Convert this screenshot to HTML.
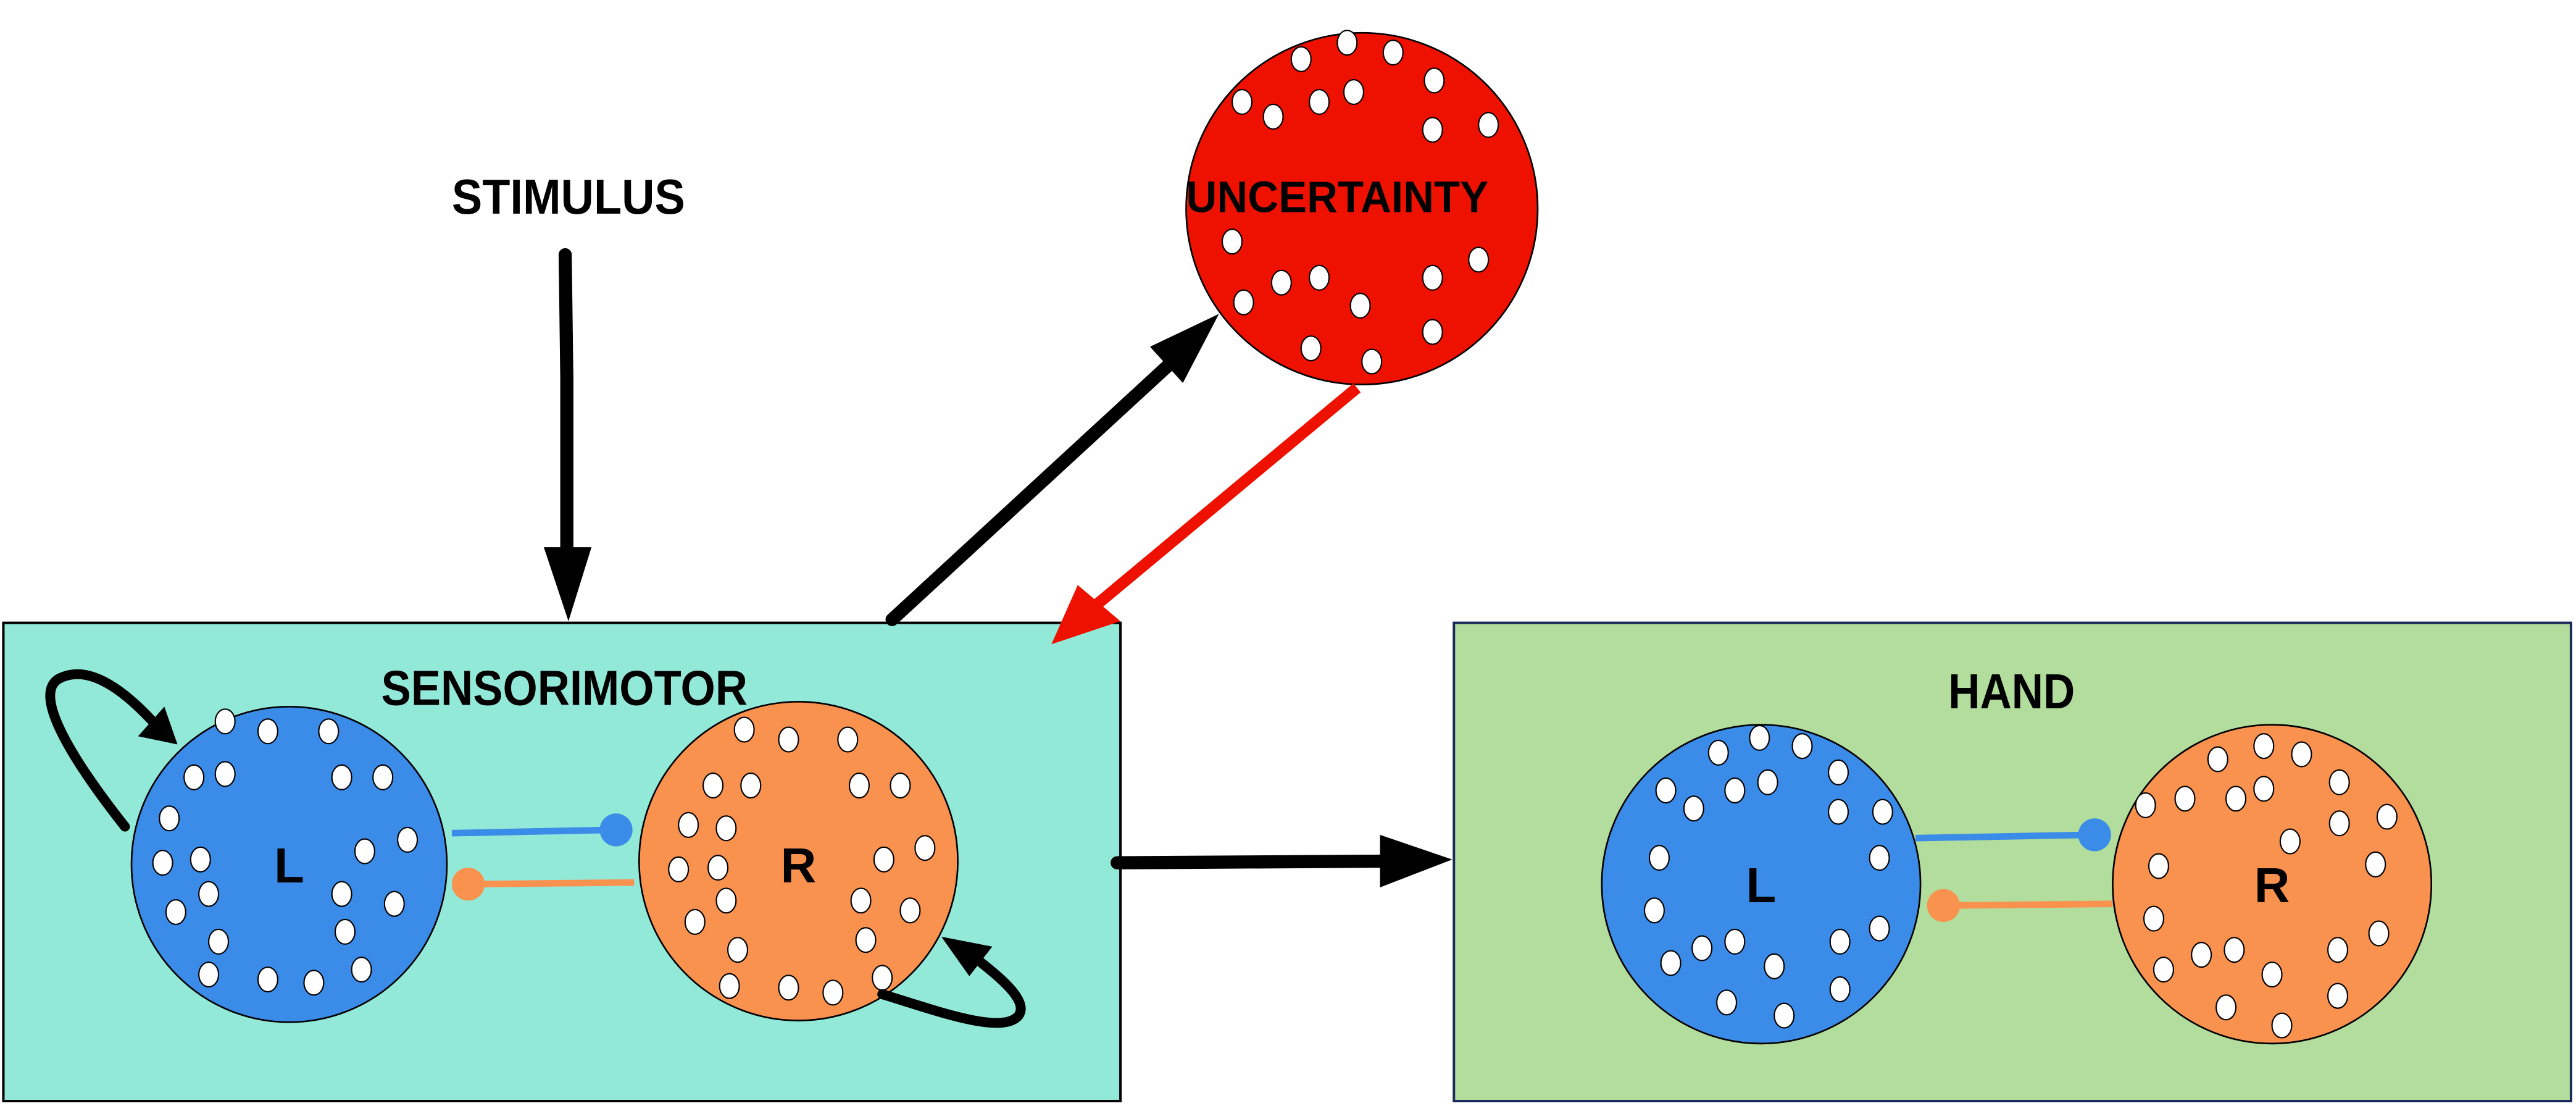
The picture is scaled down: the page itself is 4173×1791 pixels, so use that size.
<!DOCTYPE html>
<html><head><meta charset="utf-8">
<style>
html,body{margin:0;padding:0;background:#fff;}
svg{display:block;}
text{font-family:"Liberation Sans Narrow","Liberation Sans",sans-serif;font-weight:bold;}
</style></head>
<body>
<svg width="4173" height="1791" viewBox="0 0 1568 673" xmlns="http://www.w3.org/2000/svg">
<rect width="1568" height="673" fill="#fff"/>
<rect x="2" y="379" width="680" height="291" fill="#93e9d8" stroke="#000" stroke-width="1.5"/>
<rect x="885" y="379" width="680" height="291" fill="#b3dd9c" stroke="#1a2a5a" stroke-width="1.5"/>
<text x="232" y="429" font-size="30" textLength="223" lengthAdjust="spacingAndGlyphs">SENSORIMOTOR</text>
<text x="1186" y="431" font-size="30" textLength="77" lengthAdjust="spacingAndGlyphs">HAND</text>
<text x="275" y="130" font-size="30" textLength="142" lengthAdjust="spacingAndGlyphs">STIMULUS</text>
<circle cx="829" cy="127" r="107" fill="#ee1100" stroke="#000" stroke-width="1"/>
<text x="722" y="129" font-size="27" textLength="184" lengthAdjust="spacingAndGlyphs">UNCERTAINTY</text>
<circle cx="176" cy="526" r="96" fill="#3b8be8" stroke="#000" stroke-width="1"/>
<circle cx="486" cy="524" r="97" fill="#f9914f" stroke="#000" stroke-width="1"/>
<circle cx="1072" cy="538" r="97" fill="#3b8be8" stroke="#000" stroke-width="1"/>
<circle cx="1383" cy="538" r="97" fill="#f9914f" stroke="#000" stroke-width="1"/>
<g id="dots"></g>
<text x="176" y="537" font-size="30" text-anchor="middle">L</text>
<text x="486" y="537" font-size="30" text-anchor="middle">R</text>
<text x="1072" y="549" font-size="30" text-anchor="middle">L</text>
<text x="1383" y="549" font-size="30" text-anchor="middle">R</text>
<g><line x1="275" y1="507" x2="372" y2="505" stroke="#3b8be8" stroke-width="4"/><circle cx="375" cy="505" r="10" fill="#3b8be8"/></g>
<g><line x1="386" y1="537" x2="288" y2="538" stroke="#f9914f" stroke-width="4"/><circle cx="285" cy="538" r="10" fill="#f9914f"/></g>
<g><line x1="1166" y1="510" x2="1272" y2="508" stroke="#3b8be8" stroke-width="4"/><circle cx="1275" cy="508" r="10" fill="#3b8be8"/></g>
<g><line x1="1286" y1="550" x2="1186" y2="551" stroke="#f9914f" stroke-width="4"/><circle cx="1183" cy="551" r="10" fill="#f9914f"/></g>
<g><polyline points="344,155 345,230 345,340" fill="none" stroke="#000" stroke-width="8" stroke-linecap="round"/><polygon points="331,333 360,333 346,378" fill="#000"/></g>
<g><line x1="543" y1="377" x2="718" y2="216" stroke="#000" stroke-width="8" stroke-linecap="round"/><polygon points="742,191 700,211 720,233" fill="#000"/></g>
<g><line x1="826" y1="236" x2="665" y2="370" stroke="#ee1100" stroke-width="7"/><polygon points="640,392 656,356 682,378" fill="#ee1100"/></g>
<g><line x1="680" y1="525" x2="845" y2="524" stroke="#000" stroke-width="8" stroke-linecap="round"/><polygon points="884,523 840,508 840,540" fill="#000"/></g>
<g><path d="M76,503 C50,470 15,420 38,412 C55,405 75,420 92,438" fill="none" stroke="#000" stroke-width="6" stroke-linecap="round"/><polygon points="108,453 84,448 100,430" fill="#000"/></g>
<g><path d="M537,605 C570,615 610,630 620,618 C627,608 605,592 590,580" fill="none" stroke="#000" stroke-width="6" stroke-linecap="round"/><polygon points="573,570 604,576 590,594" fill="#000"/></g>
</svg>
<script>
const dotSets = [
 [[792,36],[820,26],[848,32],[873,49],[756,62],[775,71],[803,62],[824,56],[872,79],[906,76],[750,147],[900,158],[780,172],[803,169],[872,169],[757,184],[828,186],[872,202],[798,212],[835,220]],
 [[137,439],[163,445],[200,445],[118,473],[137,471],[208,473],[233,473],[103,498],[248,511],[99,525],[122,523],[222,518],[127,544],[208,544],[240,550],[107,555],[210,567],[133,573],[220,590],[127,593],[163,596],[191,598]],
 [[453,444],[480,450],[516,450],[434,478],[457,478],[523,478],[548,478],[419,502],[442,504],[563,516],[413,529],[437,528],[538,523],[442,548],[524,548],[423,561],[554,554],[449,578],[527,572],[444,600],[480,601],[507,604],[537,595]],
 [[1071,449],[1046,458],[1097,454],[1076,476],[1056,481],[1014,481],[1031,492],[1119,470],[1146,494],[1119,494],[1010,522],[1144,522],[1007,554],[1144,565],[1017,586],[1036,577],[1056,573],[1120,573],[1080,588],[1120,602],[1051,610],[1086,618]],
 [[1378,454],[1350,462],[1401,459],[1330,486],[1378,480],[1361,486],[1424,476],[1306,490],[1424,501],[1453,497],[1394,512],[1314,527],[1446,526],[1311,559],[1448,568],[1317,590],[1340,581],[1360,578],[1423,578],[1383,593],[1423,606],[1355,613],[1389,624]]
];
const g = document.getElementById('dots');
dotSets.forEach(set => set.forEach(p => {
  const e = document.createElementNS('http://www.w3.org/2000/svg','ellipse');
  e.setAttribute('cx', p[0]); e.setAttribute('cy', p[1]);
  e.setAttribute('rx', 6); e.setAttribute('ry', 7.5);
  e.setAttribute('fill', '#fff'); e.setAttribute('stroke', '#000'); e.setAttribute('stroke-width', '0.8');
  
  
  g.appendChild(e);
}));
</script>
</body></html>
